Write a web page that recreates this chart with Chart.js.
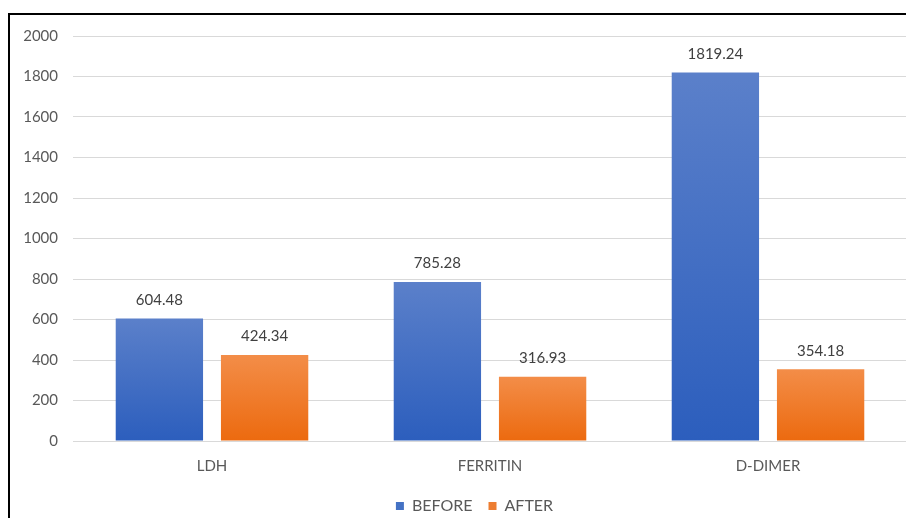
<!DOCTYPE html>
<html>
<head>
<meta charset="utf-8">
<script src="https://cdn.jsdelivr.net/npm/chart.js@4/dist/chart.umd.min.js"></script>
<style>
  html, body { margin: 0; padding: 0; background: #fff; overflow: hidden; width: 906px; height: 518px; }
  #frame { position: absolute; left: 8px; top: 13px; width: 1000px; height: 1000px;
           border-top: 2px solid #000; border-left: 2px solid #000; }
  #wrap { position: absolute; left: 10px; top: 15px; width: 910px; height: 509px; }
</style>
</head>
<body>
<div id="frame"></div>
<div id="wrap"><canvas id="labChart"></canvas></div>
<script>
var categories = ['LDH', 'FERRITIN', 'D-DIMER'];
var before = [604.48, 785.28, 1819.24];
var after = [424.34, 316.93, 354.18];
var yTicks = [0, 200, 400, 600, 800, 1000, 1200, 1400, 1600, 1800, 2000];

var FONT = 'Lato, "Open Sans", sans-serif';

// vertical gradient per bar, light at the top and darker at the base
function barFill(top, bottom, solid) {
    return function (c) {
        var chart = c.chart;
        var area = chart.chartArea;
        if (!area || c.raw == null) return solid;
        var y = chart.scales.y.getPixelForValue(c.raw);
        var g = chart.ctx.createLinearGradient(0, y, 0, area.bottom);
        g.addColorStop(0, top);
        g.addColorStop(1, bottom);
        return g;
    };
}

// value written above each bar
var valueLabels = {
    id: 'valueLabels',
    afterDatasetsDraw: function (chart) {
        var ctx = chart.ctx;
        ctx.save();
        ctx.font = '15px ' + FONT;
        ctx.fillStyle = '#404040';
        ctx.textAlign = 'center';
        ctx.textBaseline = 'bottom';
        chart.data.datasets.forEach(function (ds, i) {
            chart.getDatasetMeta(i).data.forEach(function (bar, j) {
                ctx.fillText(ds.data[j].toFixed(2), bar.x, bar.y - 11);
            });
        });
        ctx.restore();
    }
};

// nudge the legend a little to the right of the canvas centre
var legendShift = {
    id: 'legendShift',
    afterLayout: function (chart) {
        chart.legend.left += 16;
        chart.legend.right += 16;
    }
};

var ctx = document.getElementById('labChart').getContext('2d');
var labChart = new Chart(ctx, {
    type: 'bar',
    data: {
        labels: categories,
        datasets: [{
            label: 'BEFORE',
            data: before,
            backgroundColor: barFill('#5b80ca', '#2c5ebd', '#4472c4'),
            legendColor: '#4472c4',
            categoryPercentage: 0.757,
            barPercentage: 0.83
        }, {
            label: 'AFTER',
            data: after,
            backgroundColor: barFill('#f38d48', '#ec6a0f', '#ed7d31'),
            legendColor: '#ed7d31',
            categoryPercentage: 0.757,
            barPercentage: 0.83
        }]
    },
    options: {
        responsive: true,
        maintainAspectRatio: false,
        animation: false,
        layout: { padding: { top: 21, right: 13, left: 0, bottom: 0 } },
        plugins: {
            tooltip: { enabled: false },
            legend: {
                position: 'bottom',
                labels: {
                    boxWidth: 8,
                    boxHeight: 8,
                    padding: 16,
                    color: '#595959',
                    font: { family: FONT, size: 16 },
                    generateLabels: function (chart) {
                        return chart.data.datasets.map(function (ds, i) {
                            return {
                                text: ds.label,
                                fillStyle: ds.legendColor,
                                strokeStyle: ds.legendColor,
                                lineWidth: 0,
                                fontColor: '#595959',
                                datasetIndex: i
                            };
                        });
                    }
                }
            }
        },
        scales: {
            x: {
                grid: { display: false },
                border: { display: false },
                ticks: {
                    color: '#595959',
                    padding: 8,
                    font: { family: FONT, size: 15 }
                },
                afterFit: function (scale) { scale.height = 41; }
            },
            y: {
                min: 0,
                max: 2000,
                border: { display: false },
                grid: { color: '#d9d9d9', lineWidth: 1, drawTicks: false },
                afterBuildTicks: function (scale) {
                    scale.ticks = yTicks.map(function (v) { return { value: v }; });
                },
                ticks: {
                    color: '#595959',
                    padding: 15,
                    font: { family: FONT, size: 15 },
                    callback: function (v) { return String(v); }
                },
                afterFit: function (scale) {
                    scale.width = 63;
                    scale.paddingTop = 0;
                    scale.paddingBottom = 0;
                }
            }
        }
    },
    plugins: [valueLabels, legendShift]
});
</script>
</body>
</html>
